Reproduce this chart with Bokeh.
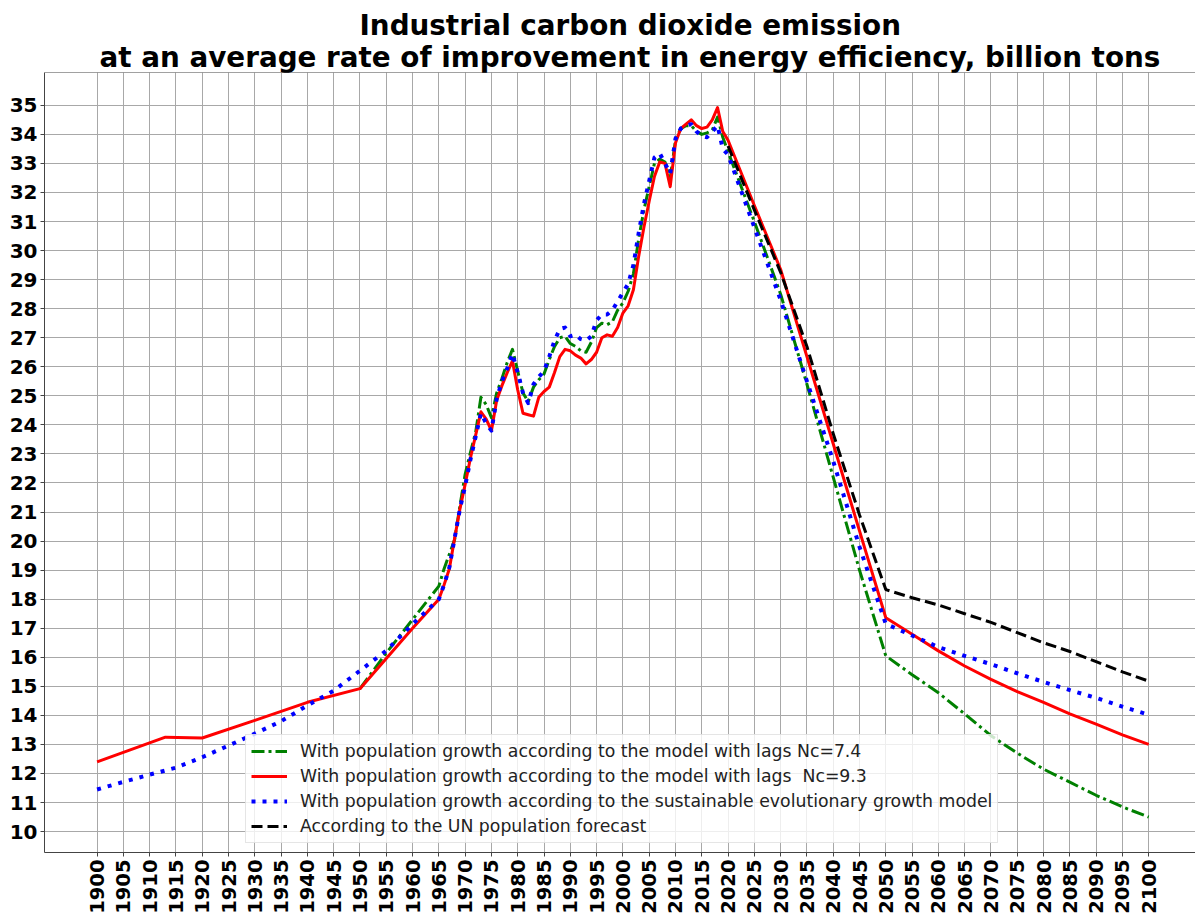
import math
from bokeh.plotting import figure
from bokeh.models import Range1d, FixedTicker, Legend, LegendItem, Title, Span
from bokeh.embed import file_html
from bokeh.resources import INLINE

# ---------------- data ----------------
hist_years = list(range(1965, 2021))
proj_years = list(range(2025, 2101, 5))

red_early_years = [1900, 1913, 1920, 1930, 1940, 1950, 1960]
red_early = [12.4, 13.25, 13.22, 13.83, 14.45, 14.92, 17.0]
red_hist = [18.0, 18.5, 19.05, 20.1, 21.1, 21.95, 22.85, 23.65, 24.45, 24.2,
            23.8, 24.85, 25.35, 25.8, 26.2, 25.2, 24.4, 24.35, 24.3, 24.95,
            25.15, 25.3, 25.8, 26.35, 26.6, 26.55, 26.4, 26.3, 26.1, 26.25,
            26.5, 27.0, 27.1, 27.05, 27.35, 27.85, 28.1, 28.65, 29.8, 30.8,
            31.7, 32.55, 33.05, 33.0, 32.2, 33.7, 34.2, 34.35, 34.5, 34.3,
            34.2, 34.25, 34.5, 34.92, 34.1, 33.8]
red_proj = [31.55, 29.35, 26.35, 23.35, 20.35, 17.36, 16.79, 16.22, 15.7,
            15.24, 14.82, 14.45, 14.05, 13.7, 13.33, 13.0]

green_early_years = [1950, 1955, 1960]
green_early = [14.92, 16.15, 17.3]
green_hist = [18.45, 19.05, 19.55, 20.05, 21.2, 22.3, 23.05, 23.75, 24.95, 24.7,
              24.25, 25.1, 25.6, 26.15, 26.6, 25.85, 25.1, 24.8, 25.3, 25.55,
              25.75, 26.25, 26.7, 27.0, 27.05, 26.8, 26.7, 26.55, 26.5, 26.85,
              27.35, 27.5, 27.45, 27.55, 27.95, 28.2, 28.6, 29.2, 30.4, 31.4,
              32.2, 33.0, 33.15, 33.05, 32.5, 33.8, 34.2, 34.3, 34.3, 34.1,
              34.0, 34.05, 34.15, 34.6, 33.9, 33.4]
green_proj = [31.0, 28.5, 25.4, 22.2, 19.0, 16.05, 15.4, 14.78, 14.05, 13.3,
              12.7, 12.15, 11.7, 11.25, 10.85, 10.5]

blue_early_years = [1900, 1905, 1910, 1915, 1920, 1925, 1930, 1935, 1940,
                    1945, 1950, 1955, 1960]
blue_early = [11.45, 11.71, 11.96, 12.2, 12.56, 12.96, 13.37, 13.8, 14.34,
              14.85, 15.54, 16.23, 17.14]
blue_hist = [18.0, 18.5, 19.1, 20.1, 21.1, 21.9, 22.8, 23.6, 24.4, 24.05,
             23.8, 24.9, 25.5, 25.95, 26.45, 25.8, 25.1, 24.75, 25.4, 25.65,
             25.85, 26.35, 26.9, 27.3, 27.35, 27.05, 27.1, 26.95, 26.9, 27.05,
             27.6, 27.8, 27.8, 27.95, 28.25, 28.55, 28.85, 29.5, 30.6, 31.6,
             32.4, 33.2, 33.35, 33.0, 32.65, 33.85, 34.2, 34.3, 34.35, 34.1,
             33.95, 33.9, 34.1, 34.3, 33.5, 33.3]
blue_proj = [30.8, 28.3, 25.5, 22.75, 19.8, 17.15, 16.75, 16.35, 16.05, 15.76,
             15.45, 15.15, 14.87, 14.6, 14.3, 14.02]

black_years = [2020] + proj_years
black_vals = [33.6, 31.4, 29.25, 26.7, 23.7, 20.9, 18.33, 18.05, 17.8, 17.5,
              17.2, 16.85, 16.5, 16.2, 15.85, 15.5, 15.18]

x_ticks = list(range(1900, 2101, 5))
y_ticks = list(range(10, 36))

labels = [
    "With population growth according to the model with lags Nc=7.4",
    "With population growth according to the model with lags  Nc=9.3",
    "With population growth according to the sustainable evolutionary growth model",
    "According to the UN population forecast",
]

title_line1 = "Industrial carbon dioxide emission"
title_line2 = "at an average rate of improvement in energy efficiency, billion tons"

# ---------------- figure ----------------
Y_TOP = 36.13
p = figure(width=1195, height=916,
           x_range=Range1d(1890, 2108.9), y_range=Range1d(9.28, Y_TOP),
           output_backend="svg", toolbar_location=None,
           min_border_left=44, min_border_right=0, min_border_top=72,
           min_border_bottom=62)
p.outline_line_color = None
p.background_fill_color = "white"
p.border_fill_color = "white"

FONT = "DejaVu Sans"
# outermost title line
p.title.text = title_line1
p.title.align = "left"
p.title.offset = 315
p.title.text_font = FONT
p.title.text_font_size = "27.8px"
p.title.text_font_style = "bold"
p.title.text_color = "black"
p.title.standoff = -3

t2 = Title(text=title_line2, align="left", offset=55, text_font=FONT,
           text_font_size="27.8px", text_font_style="bold",
           text_color="black", standoff=-3)
p.add_layout(t2, "above")

# axes
for ax in (p.xaxis[0], p.yaxis[0]):
    ax.axis_line_color = "#444444"
    ax.axis_line_width = 1
    ax.major_tick_line_color = "#444444"
    ax.major_tick_out = 4
    ax.major_tick_in = 0
    ax.minor_tick_line_color = None
    ax.major_label_text_font = FONT
    ax.major_label_text_font_style = "bold"
    ax.major_label_text_color = "black"
    ax.major_label_standoff = 3
p.yaxis.major_label_text_font_size = "20px"
p.xaxis.major_label_text_font_size = "19.5px"

p.xaxis.ticker = FixedTicker(ticks=x_ticks)
p.yaxis.ticker = FixedTicker(ticks=y_ticks)
p.xaxis.major_label_orientation = math.pi / 2

p.xgrid.grid_line_color = "#a8a8a8"
p.ygrid.grid_line_color = "#a8a8a8"
p.xgrid.grid_line_width = 1
p.ygrid.grid_line_width = 1

p.add_layout(Span(location=Y_TOP, dimension="width",
                  line_color="#444444", line_width=1))

# ---------------- series ----------------
gx = green_early_years + hist_years + proj_years
gy = green_early + green_hist + green_proj
rx = red_early_years + hist_years + proj_years
ry = red_early + red_hist + red_proj
bx = blue_early_years + hist_years + proj_years
by = blue_early + blue_hist + blue_proj

r_green = p.line(gx, gy, line_color="green", line_width=3,
                 line_dash="13 4 3 4", line_join="round")
r_red = p.line(rx, ry, line_color="red", line_width=3, line_join="round")
r_blue = p.line(bx, by, line_color="blue", line_width=4,
                line_dash="4 7", line_join="round")
r_black = p.line(black_years, black_vals, line_color="black", line_width=3,
                 line_dash="11 5", line_join="round")

legend = Legend(items=[
    LegendItem(label=labels[0], renderers=[r_green]),
    LegendItem(label=labels[1], renderers=[r_red]),
    LegendItem(label=labels[2], renderers=[r_blue]),
    LegendItem(label=labels[3], renderers=[r_black]),
], location=(201, 9))
legend.margin = 0
legend.padding = 5
legend.spacing = 3
legend.glyph_width = 36
legend.glyph_height = 22
legend.label_height = 22
legend.label_standoff = 13
legend.label_text_font = FONT
legend.label_text_font_size = "17.3px"
legend.label_text_color = "#222222"
legend.border_line_color = "#cccccc"
legend.background_fill_color = "white"
legend.background_fill_alpha = 0.8
p.add_layout(legend)

open("out.html", "w").write(file_html(p, INLINE))
